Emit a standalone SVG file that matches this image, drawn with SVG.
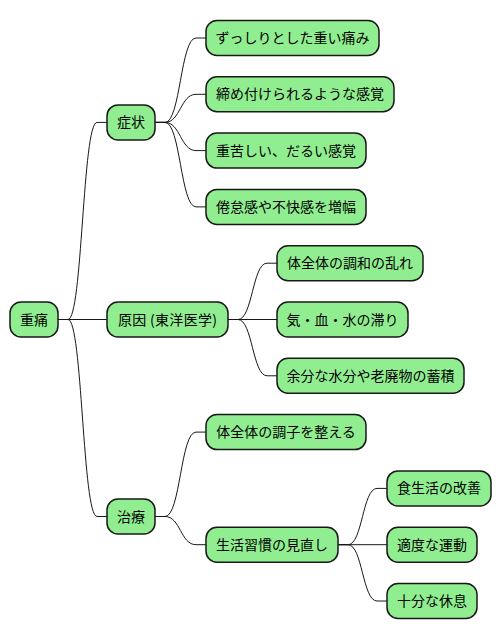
<svg xmlns="http://www.w3.org/2000/svg" width="502" height="640" viewBox="0 0 502 640">
<style>
.n rect{fill:#90EE90;stroke:#181818;stroke-width:1.5}
.n text{font-family:"Noto Sans CJK JP","Noto Sans",sans-serif;font-size:14px;fill:#000;text-anchor:middle}
#edges path{fill:none;stroke:#181818;stroke-width:1}
</style>
<rect width="502" height="640" fill="#fff"/>
<g id="edges">
<path d="M58,319.5 H68 C82.5,319.5 82.5,122.4 97,122.4 H107"/>
<path d="M58,319.5 H107"/>
<path d="M58,319.5 H68 C82.5,319.5 82.5,516.5 97,516.5 H107"/>
<path d="M155,122.4 H165 C180.5,122.4 180.5,38 196,38 H206"/>
<path d="M155,122.4 H165 C180.5,122.4 180.5,94.3 196,94.3 H206"/>
<path d="M155,122.4 H165 C180.5,122.4 180.5,150.6 196,150.6 H206"/>
<path d="M155,122.4 H165 C180.5,122.4 180.5,206.9 196,206.9 H206"/>
<path d="M228,319.5 H238 C252.5,319.5 252.5,263.2 267,263.2 H277"/>
<path d="M228,319.5 H277"/>
<path d="M228,319.5 H238 C252.5,319.5 252.5,375.8 267,375.8 H277"/>
<path d="M155,516.5 H165 C180.5,516.5 180.5,432.1 196,432.1 H206"/>
<path d="M155,516.5 H165 C180.5,516.5 180.5,544.7 196,544.7 H206"/>
<path d="M338,544.7 H348 C362.5,544.7 362.5,488.4 377,488.4 H387"/>
<path d="M338,544.7 H387"/>
<path d="M338,544.7 H348 C362.5,544.7 362.5,601 377,601 H387"/>
</g>
<g id="root" class="n"><rect x="10" y="302" width="48" height="35" rx="11"/><text x="34" y="324.5">重痛</text></g>
<g id="shojo" class="n"><rect x="107" y="104.9" width="48" height="35" rx="11"/><text x="131" y="127.4">症状</text></g>
<g id="gen-in" class="n"><rect x="107" y="302" width="121" height="35" rx="11"/><text x="167.5" y="324.5" textLength="99" lengthAdjust="spacing">原因 (東洋医学)</text></g>
<g id="chiryo" class="n"><rect x="107" y="499" width="48" height="35" rx="11"/><text x="131" y="521.5">治療</text></g>
<g id="s1" class="n"><rect x="206" y="20.5" width="173" height="35" rx="11"/><text x="292.5" y="43">ずっしりとした重い痛み</text></g>
<g id="s2" class="n"><rect x="206" y="76.8" width="188" height="35" rx="11"/><text x="300" y="99.3">締め付けられるような感覚</text></g>
<g id="s3" class="n"><rect x="206" y="133.1" width="160" height="35" rx="11"/><text x="286" y="155.6">重苦しい、だるい感覚</text></g>
<g id="s4" class="n"><rect x="206" y="189.4" width="160" height="35" rx="11"/><text x="286" y="211.9">倦怠感や不快感を増幅</text></g>
<g id="c1" class="n"><rect x="277" y="245.7" width="146" height="35" rx="11"/><text x="350" y="268.2">体全体の調和の乱れ</text></g>
<g id="c2" class="n"><rect x="277" y="302" width="131" height="35" rx="11"/><text x="342.5" y="324.5">気・血・水の滞り</text></g>
<g id="c3" class="n"><rect x="277" y="358.3" width="187" height="35" rx="11"/><text x="370.5" y="380.8">余分な水分や老廃物の蓄積</text></g>
<g id="t1" class="n"><rect x="206" y="414.6" width="160" height="35" rx="11"/><text x="286" y="437.1">体全体の調子を整える</text></g>
<g id="t2" class="n"><rect x="206" y="527.2" width="132" height="35" rx="11"/><text x="272" y="549.7">生活習慣の見直し</text></g>
<g id="t2a" class="n"><rect x="387" y="470.9" width="104" height="35" rx="11"/><text x="439" y="493.4">食生活の改善</text></g>
<g id="t2b" class="n"><rect x="387" y="527.2" width="90" height="35" rx="11"/><text x="432" y="549.7">適度な運動</text></g>
<g id="t2c" class="n"><rect x="387" y="583.5" width="90" height="35" rx="11"/><text x="432" y="606">十分な休息</text></g>
</svg>
